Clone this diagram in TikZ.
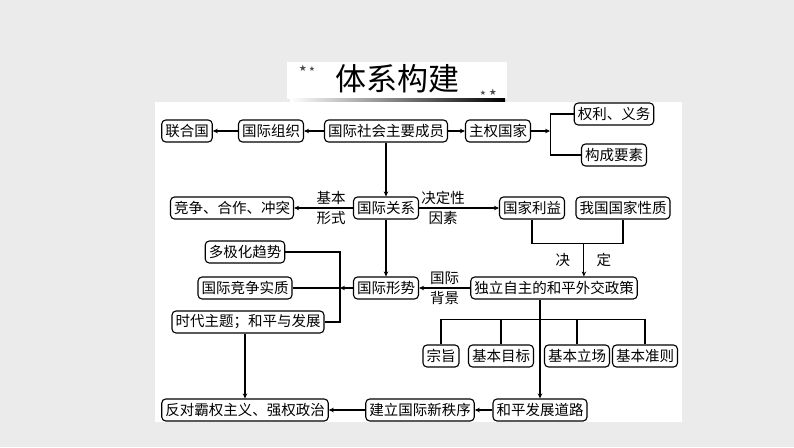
\documentclass[tikz,border=0pt]{standalone}
\usepackage{fontspec}
\newfontfamily\cjk{Noto Sans CJK SC}
\newfontfamily\sym{DejaVu Sans}
\usetikzlibrary{arrows.meta, calc}

\begin{document}
\begin{tikzpicture}[
    x=1pt, y=-1pt,
    font=\cjk\fontsize{14.5}{16}\selectfont,
    >={Stealth[length=5pt, width=4.5pt]},
    box/.style={
        rectangle, draw=black, line width=1.1pt, rounded corners=4pt,
        fill=white, minimum height=22pt, inner xsep=3.5pt, inner ysep=1pt
    },
    lbl/.style={inner sep=1pt},
    star/.style={font=\sym\fontsize{#1}{#1}\selectfont, text=black!70, inner sep=0pt},
    arr/.style={->, line width=1.1pt},
    line/.style={line width=1.1pt}
]

% Page, paper panel and title banner
\useasboundingbox (0,0) rectangle (794,447);
\fill[black!8] (0,0) rectangle (794,447);
\fill[white] (155,102) rectangle (682,422);
\fill[white] (287,62) rectangle (507,99);
\shade[left color=white, right color=black] (290,98.5) rectangle (505,101.5);
\node[font=\cjk\fontsize{31}{34}\selectfont] (title) at (397,79) {体系构建};
\node[star=9] (starA) at (303,68) {★};
\node[star=7] (starB) at (312,69) {★};
\node[star=7] (starC) at (483,93) {★};
\node[star=9] (starD) at (493,92) {★};

% Members of international society
\node[box] (un) at (187,131) {联合国};
\node[box] (org) at (271,131) {国际组织};
\node[box] (member) at (386,131) {国际社会主要成员};
\node[box] (state) at (498,131) {主权国家};
\node[box] (rights) at (614,114) {权利、义务};
\node[box] (elements) at (614,155) {构成要素};

% International relations row
\node[box] (forms) at (232,208) {竞争、合作、冲突};
\node[box] (relation) at (386,208) {国际关系};
\node[box] (interest) at (532,208) {国家利益};
\node[box] (nature) at (623,208) {我国国家性质};

% Situation and foreign policy
\node[box] (multipolar) at (245,252) {多极化趋势};
\node[box] (compete) at (245,288) {国际竞争实质};
\node[box] (theme) at (248,322) {时代主题；和平与发展};
\node[box] (situation) at (386,288) {国际形势};
\node[box] (policy) at (554,288) {独立自主的和平外交政策};

% Policy parts
\node[box] (aim) at (441,356) {宗旨};
\node[box] (goal) at (501,356) {基本目标};
\node[box] (stand) at (577,356) {基本立场};
\node[box] (principle) at (645,356) {基本准则};

% Bottom row
\node[box] (oppose) at (245,410) {反对霸权主义、强权政治};
\node[box] (order) at (420,410) {建立国际新秩序};
\node[box] (road) at (540,410) {和平发展道路};

% Top row connectors
\draw[arr] (member) -- (org);
\draw[arr] (org) -- (un);
\draw[arr] (member) -- (state);
\coordinate (statefork) at ([xshift=19pt]state.east);
\draw[arr] (state.east) -- (statefork);
\draw[line] (rights.west) -| (statefork) |- (elements.west);

% Relations
\draw[arr] (member) -- (relation);
\draw[arr] (relation) -- (forms)
    node[lbl, pos=0.37, above=2pt] {基本}
    node[lbl, pos=0.37, below=2pt] {形式};
\draw[arr] (relation) -- (interest)
    node[lbl, pos=0.3, above=2pt] {决定性}
    node[lbl, pos=0.3, below=2pt] {因素};
\draw[arr] (relation) -- (situation);

% Interest and nature decide the policy
\coordinate (decide) at ([yshift=-24pt]$(interest.south)!0.57!(nature.south)$);
\draw[line] (interest.south) |- (decide) -| (nature.south);
\draw[arr] (decide) -- (decide |- policy.north)
    node[lbl, midway, xshift=-21pt] {决}
    node[lbl, midway, xshift=20pt] {定};

% Situation background
\draw[arr] (policy) -- (situation)
    node[lbl, midway, above=2pt] {国际}
    node[lbl, midway, below=2pt] {背景};
\coordinate (sitfork) at ([xshift=-13pt]situation.west);
\draw[arr] (situation) -- (sitfork);
\draw[line] (multipolar.east) -| (sitfork) |- (theme.east);
\draw[line] (compete) -- (sitfork);
\draw[arr] (theme.south -| oppose.north) -- (oppose.north);

% Parts of the policy
\path (aim.north) ++(0,-25) coordinate (bar);
\draw[line] (aim.north) -- (bar) -| (principle.north);
\draw[line] (goal.north) -- (goal.north |- bar);
\draw[line] (stand.north) -- (stand.north |- bar);

% Road to a new order
\draw[arr] (policy.south -| road.north) -- (road.north);
\draw[arr] (road) -- (order);
\draw[arr] (order) -- (oppose);

\end{tikzpicture}
\end{document}
